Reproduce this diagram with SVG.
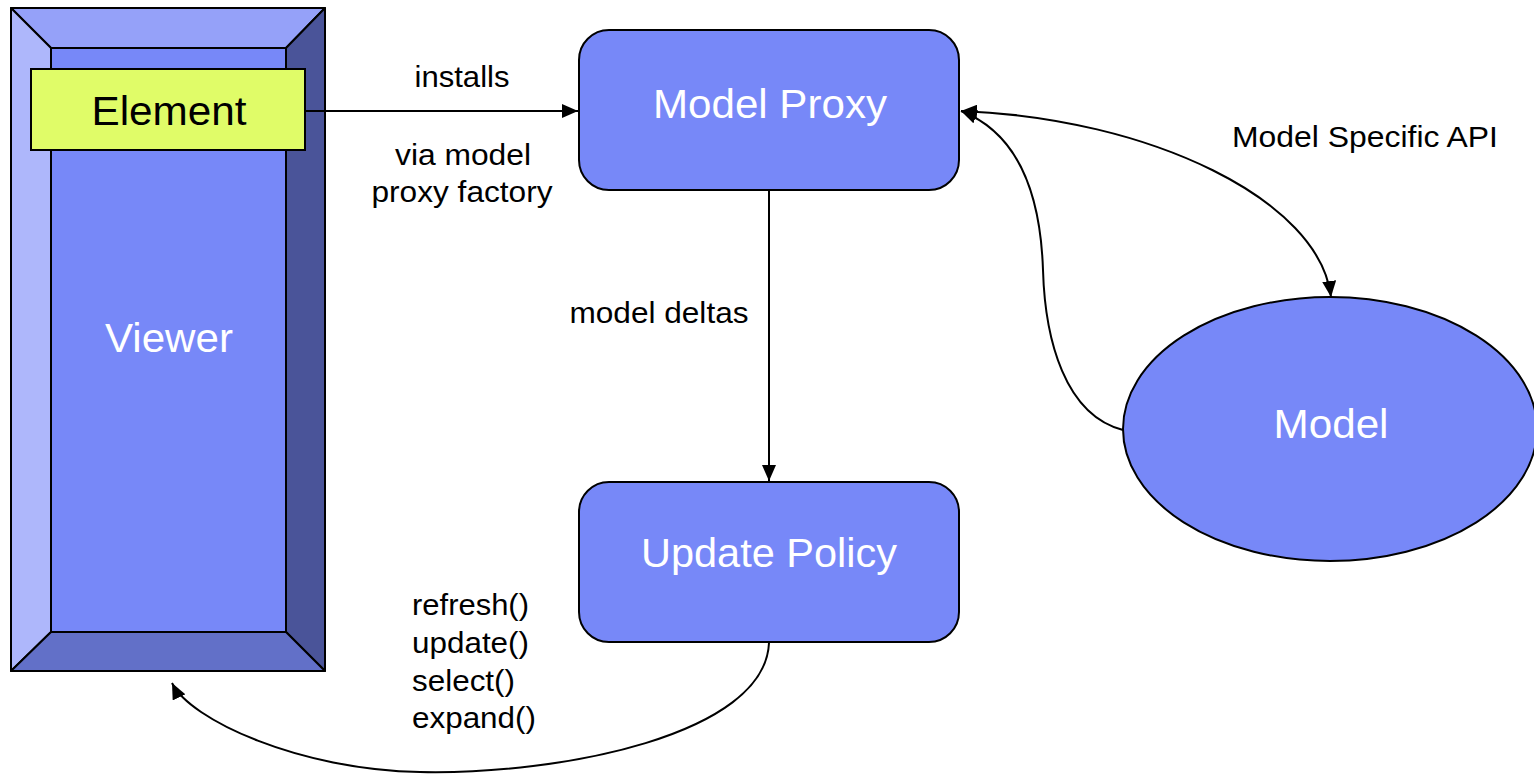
<svg xmlns="http://www.w3.org/2000/svg" width="1534" height="775" viewBox="0 0 1534 775">
  <style>
    .box { fill: #7788f8; stroke: #000; stroke-width: 2; }
    .big { font-family: "Liberation Sans", Arial, sans-serif; font-size: 40px; fill: #fff; text-anchor: middle; }
    .lbl { font-family: "Liberation Sans", Arial, sans-serif; font-size: 29px; fill: #000; }
    .mid { text-anchor: middle; }
    .edge { fill: none; stroke: #000; stroke-width: 2; }
    .bev { stroke: #000; stroke-width: 2; stroke-linejoin: round; }
  </style>
  <defs>
    <marker id="arrow" viewBox="0 0 16 14" refX="16" refY="7" markerWidth="16" markerHeight="14" markerUnits="userSpaceOnUse" orient="auto-start-reverse">
      <path d="M0,0 L16,7 L0,14 Z" fill="#000"/>
    </marker>
  </defs>

  <rect width="1534" height="775" fill="#fff"/>

  <!-- Viewer: bevelled frame -->
  <g id="viewer">
    <polygon class="bev" fill="#95a1f9" points="11,8 325,8 286,48 51,48"/>
    <polygon class="bev" fill="#aeb7fb" points="11,8 51,48 51,632 11,671"/>
    <polygon class="bev" fill="#4a5499" points="325,8 325,671 286,632 286,48"/>
    <polygon class="bev" fill="#6270c8" points="11,671 51,632 286,632 325,671"/>
    <rect class="bev" fill="#7788f8" x="51" y="48" width="235" height="584"/>
    <text class="big" x="169" y="352" textLength="128" lengthAdjust="spacingAndGlyphs">Viewer</text>
  </g>

  <!-- Element -->
  <g id="element">
    <rect x="31" y="69" width="274" height="81" fill="#e0fc68" stroke="#000" stroke-width="2"/>
    <text class="big" x="169" y="125" style="fill:#000" textLength="155" lengthAdjust="spacingAndGlyphs">Element</text>
  </g>

  <!-- Model Proxy -->
  <g id="model-proxy">
    <rect class="box" x="579" y="30" width="380" height="160" rx="30" ry="30"/>
    <text class="big" x="770" y="118" textLength="234" lengthAdjust="spacingAndGlyphs">Model Proxy</text>
  </g>

  <!-- Update Policy -->
  <g id="update-policy">
    <rect class="box" x="579" y="482" width="380" height="160" rx="30" ry="30"/>
    <text class="big" x="769" y="567" textLength="256" lengthAdjust="spacingAndGlyphs">Update Policy</text>
  </g>

  <!-- Model -->
  <g id="model">
    <ellipse class="box" cx="1330" cy="429" rx="207" ry="132"/>
    <text class="big" x="1331" y="438" textLength="115" lengthAdjust="spacingAndGlyphs">Model</text>
  </g>

  <!-- Connectors -->
  <g id="connectors">
    <path class="edge" d="M305,111 L578,111" marker-end="url(#arrow)"/>
    <path class="edge" d="M769,190 L769,481" marker-end="url(#arrow)"/>
    <path class="edge" d="M769,643 C765,735 560,775 420,772 C300,770 190,720 172,683" marker-end="url(#arrow)"/>
    <path class="edge" d="M1123,430 C1065,415 1045,340 1043,270 C1040,180 1010,130 961,111" marker-end="url(#arrow)"/>
    <path class="edge" d="M961,111 C1150,118 1320,200 1331,297" marker-start="url(#arrow)" marker-end="url(#arrow)"/>
  </g>

  <!-- Connector labels -->
  <g id="labels">
    <text class="lbl mid" x="462" y="87" textLength="95" lengthAdjust="spacingAndGlyphs">installs</text>
    <text class="lbl mid" x="463" y="165" textLength="136" lengthAdjust="spacingAndGlyphs">via model</text>
    <text class="lbl mid" x="462" y="202" textLength="181" lengthAdjust="spacingAndGlyphs">proxy factory</text>
    <text class="lbl mid" x="659" y="323" textLength="179" lengthAdjust="spacingAndGlyphs">model deltas</text>
    <text class="lbl mid" x="1365" y="147" textLength="266" lengthAdjust="spacingAndGlyphs">Model Specific API</text>
    <text class="lbl" x="412" y="615" textLength="117" lengthAdjust="spacingAndGlyphs">refresh()</text>
    <text class="lbl" x="412" y="653" textLength="117" lengthAdjust="spacingAndGlyphs">update()</text>
    <text class="lbl" x="412" y="691" textLength="103" lengthAdjust="spacingAndGlyphs">select()</text>
    <text class="lbl" x="412" y="728" textLength="124" lengthAdjust="spacingAndGlyphs">expand()</text>
  </g>
</svg>
